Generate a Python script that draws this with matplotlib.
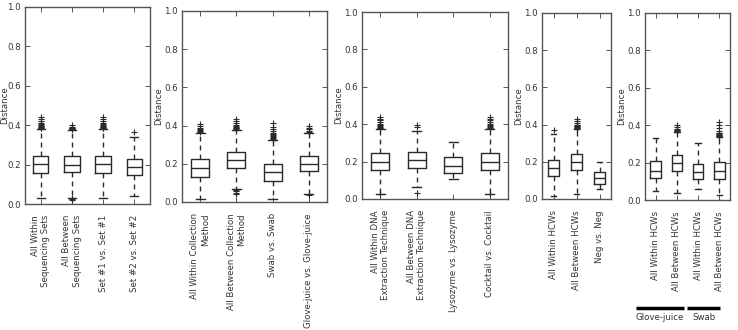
import numpy as np
import matplotlib
matplotlib.use('Agg')
import matplotlib.pyplot as plt
import matplotlib.transforms as mtransforms

plt.rcParams['font.family'] = ['DejaVu Sans']

# panel 1 - sequencing sets
labels1 = ['All Within\nSequencing Sets', 'All Between\nSequencing Sets',
           'Set #1 vs. Set #1', 'Set #2 vs. Set #2']
q1_1 = [0.158, 0.162, 0.158, 0.149]
med_1 = [0.202, 0.200, 0.202, 0.188]
q3_1 = [0.246, 0.246, 0.246, 0.228]
lo_1 = [0.032, 0.032, 0.032, 0.043]
hi_1 = [0.382, 0.375, 0.382, 0.342]
fl_1 = [[0.385, 0.388, 0.39, 0.393, 0.396, 0.40, 0.405, 0.41, 0.42, 0.43, 0.44],
        [0.379, 0.382, 0.385, 0.388, 0.392, 0.40, 0.026, 0.029, 0.022],
        [0.385, 0.388, 0.39, 0.393, 0.396, 0.40, 0.405, 0.41, 0.42, 0.43, 0.44],
        [0.365]]

# panel 2 - collection method
labels2 = ['All Within Collection\nMethod', 'All Between Collection\nMethod',
           'Swab vs. Swab', 'Glove-juice vs. Glove-juice']
q1_2 = [0.133, 0.180, 0.112, 0.160]
med_2 = [0.179, 0.221, 0.157, 0.200]
q3_2 = [0.225, 0.260, 0.198, 0.240]
lo_2 = [0.016, 0.068, 0.014, 0.040]
hi_2 = [0.362, 0.375, 0.323, 0.363]
fl_2 = [[0.366, 0.37, 0.375, 0.38, 0.39, 0.40, 0.41],
        [0.38, 0.385, 0.39, 0.395, 0.40, 0.405, 0.415, 0.425, 0.435, 0.062, 0.055, 0.048, 0.042],
        [0.327, 0.331, 0.335, 0.34, 0.345, 0.35, 0.355, 0.36, 0.37, 0.38, 0.395, 0.415],
        [0.367, 0.372, 0.38, 0.39, 0.40, 0.036]]

# panel 3 - DNA extraction
labels3 = ['All Within DNA\nExtraction Technique', 'All Between DNA\nExtraction Technique',
           'Lysozyme vs. Lysozyme', 'Cocktail vs. Cocktail']
q1_3 = [0.157, 0.166, 0.139, 0.157]
med_3 = [0.200, 0.211, 0.179, 0.200]
q3_3 = [0.245, 0.250, 0.225, 0.245]
lo_3 = [0.028, 0.063, 0.107, 0.028]
hi_3 = [0.375, 0.362, 0.307, 0.375]
fl_3 = [[0.378, 0.382, 0.386, 0.39, 0.395, 0.40, 0.41, 0.42, 0.43, 0.44, 0.025],
        [0.385, 0.395, 0.032],
        [],
        [0.378, 0.382, 0.386, 0.39, 0.395, 0.40, 0.41, 0.42, 0.43, 0.44, 0.025]]

# panel 4 - HCWs
labels4 = ['All Within HCWs', 'All Between HCWs', 'Neg vs. Neg']
q1_4 = [0.121, 0.155, 0.082]
med_4 = [0.166, 0.200, 0.112]
q3_4 = [0.210, 0.243, 0.146]
lo_4 = [0.014, 0.027, 0.054]
hi_4 = [0.352, 0.375, 0.198]
fl_4 = [[0.370],
        [0.378, 0.381, 0.384, 0.387, 0.39, 0.393, 0.396, 0.40, 0.41, 0.42, 0.43],
        []]

# panel 5 - HCWs split by collection method
labels5 = ['All Within HCWs', 'All Between HCWs', 'All Within HCWs', 'All Between HCWs']
q1_5 = [0.116, 0.155, 0.111, 0.114]
med_5 = [0.155, 0.200, 0.150, 0.155]
q3_5 = [0.211, 0.239, 0.191, 0.204]
lo_5 = [0.048, 0.036, 0.057, 0.029]
hi_5 = [0.329, 0.365, 0.307, 0.335]
fl_5 = [[],
        [0.368, 0.372, 0.376, 0.38, 0.39, 0.40],
        [],
        [0.338, 0.341, 0.344, 0.347, 0.35, 0.353, 0.356, 0.36, 0.37, 0.385, 0.40, 0.415]]
groups5 = ['Glove-juice', 'Swab']

W, H = 738, 330
# axes boxes in pixels: left, right, top, bottom
boxes_px = [(25, 150, 7, 204), (182, 327, 11, 202), (362, 508, 12, 199),
            (542, 611, 13, 199), (645, 730, 13, 200)]

panels = [(labels1, q1_1, med_1, q3_1, lo_1, hi_1, fl_1),
          (labels2, q1_2, med_2, q3_2, lo_2, hi_2, fl_2),
          (labels3, q1_3, med_3, q3_3, lo_3, hi_3, fl_3),
          (labels4, q1_4, med_4, q3_4, lo_4, hi_4, fl_4),
          (labels5, q1_5, med_5, q3_5, lo_5, hi_5, fl_5)]

fs = 6.2
fig = plt.figure(figsize=(W / 100, H / 100), dpi=100)
col = '#2a2a2a'
axes = []
for (l, r, t, b), (labs, q1, med, q3, lo, hi, fl) in zip(boxes_px, panels):
    ax = fig.add_axes([l / W, 1 - b / H, (r - l) / W, (b - t) / H])
    stats = []
    for i in range(len(labs)):
        stats.append(dict(med=med[i], q1=q1[i], q3=q3[i], whislo=lo[i],
                          whishi=hi[i], fliers=fl[i]))
    ax.bxp(stats, widths=0.5, showfliers=True,
           boxprops=dict(color=col, lw=1),
           medianprops=dict(color=col, lw=1),
           whiskerprops=dict(color=col, lw=1, ls=(0, (3.5, 3))),
           capprops=dict(color=col, lw=1),
           flierprops=dict(marker='+', markeredgecolor=col, markersize=4.5, mew=0.8))
    ax.set_xlim(0.5, len(labs) + 0.5)
    ax.set_ylim(0, 1.0)
    ax.set_yticks([0.0, 0.2, 0.4, 0.6, 0.8, 1.0])
    ax.set_yticklabels(['0.0', '0.2', '0.4', '0.6', '0.8', '1.0'])
    ax.set_xticks(range(1, len(labs) + 1))
    ax.set_xticklabels(labs, rotation=90, va='top', ha='center',
                       multialignment='right', fontsize=fs, color='#333')
    ax.tick_params(direction='in', top=True, right=True, length=3.5, width=0.7,
                   labelsize=fs, labelcolor='#333', color='#555', pad=3)
    ax.tick_params(axis='x', pad=8)
    for s in ax.spines.values():
        s.set_color('#555')
        s.set_linewidth(1)
    ax.set_ylabel('Distance', fontsize=fs, color='#333', labelpad=1)
    axes.append(ax)

# first panel's label sits right at the figure edge
axes[0].yaxis.set_label_coords(-0.13, 0.5)

# group bars under the last panel
ax5 = axes[-1]
trans = mtransforms.blended_transform_factory(ax5.transData, fig.transFigure)
spans = [(0.08, 2.33), (2.48, 4.03)]
for (x0, x1), g in zip(spans, groups5):
    ax5.plot([x0, x1], [1 - 308 / H, 1 - 308 / H], color='black', lw=2.5,
             transform=trans, clip_on=False, solid_capstyle='butt')
    ax5.text((x0 + x1) / 2, 1 - 318 / H, g, transform=trans, ha='center',
             va='center', fontsize=fs, color='#333')

fig.savefig('out.png', dpi=100, facecolor='white')
